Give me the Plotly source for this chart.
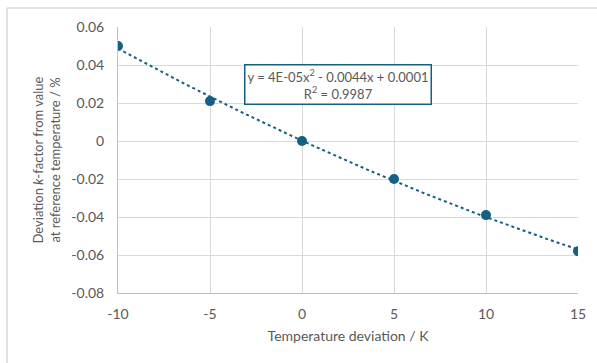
import numpy as np
import plotly.graph_objects as go

temp_dev = [-10, -5, 0, 5, 10, 15]
k_dev = [0.050, 0.021, 0.000, -0.020, -0.039, -0.058]
x_ticks = [-10, -5, 0, 5, 10, 15]
x_tick_labels = ["-10", "-5", "0", "5", "10", "15"]
y_ticks = [0.06, 0.04, 0.02, 0, -0.02, -0.04, -0.06, -0.08]
y_tick_labels = ["0.06", "0.04", "0.02", "0", "-0.02", "-0.04", "-0.06", "-0.08"]
eq_text = "y = 4E-05x<sup>2</sup> - 0.0044x + 0.0001<br>R<sup>2</sup> = 0.9987"

W, H = 597, 363
ML, MR, MT, MB = 118, 19, 27, 70

color = "#156082"
txt = "#595959"
grid = "#D9D9D9"
font = "Lato"

coef = np.polyfit(temp_dev, k_dev, 2)
xs = np.linspace(min(temp_dev), max(temp_dev), 200)
ys = np.polyval(coef, xs)

fig = go.Figure()
fig.add_trace(go.Scatter(x=xs, y=ys, mode="lines",
                         line=dict(color=color, width=2, dash="dot"),
                         hoverinfo="skip", showlegend=False))
fig.add_trace(go.Scatter(x=temp_dev, y=k_dev, mode="markers",
                         marker=dict(color=color, size=10),
                         showlegend=False))

fig.update_layout(
    width=W, height=H,
    margin=dict(l=ML, r=MR, t=MT, b=MB),
    paper_bgcolor="white", plot_bgcolor="white",
    font=dict(family=font, color=txt, size=13),
    xaxis=dict(range=[-10, 15], tickvals=x_ticks, ticktext=x_tick_labels,
               showgrid=True, gridcolor=grid,
               gridwidth=1, zeroline=False, showline=True, linecolor="#BFBFBF",
               ticks="", ticklabelstandoff=8, tickfont=dict(size=14, color=txt),
               title=dict(text="Temperature deviation / K", font=dict(size=14, color=txt), standoff=10),
               mirror=False),
    yaxis=dict(range=[-0.08, 0.06], tickvals=y_ticks, ticktext=y_tick_labels,
               showgrid=True, gridcolor=grid, gridwidth=1, zeroline=False,
               showline=True, linecolor="#BFBFBF", ticks="", ticklabelstandoff=10,
               tickfont=dict(size=14, color=txt),
               title=dict(text="Deviation <i>k</i>-factor from value<br>at reference temperature / %",
                          font=dict(size=13, color=txt), standoff=7)),
)

fig.add_annotation(x=1.96, y=0.0297, xref="x", yref="y", text=eq_text, showarrow=False,
                   font=dict(size=13, color=txt, family=font), align="center",
                   bordercolor=color, borderwidth=1.5, borderpad=2, bgcolor="white")

# outer chart border (top and left visible)
fig.add_shape(type="line", xref="paper", yref="paper",
              x0=(7 - ML) / (W - ML - MR), x1=1.2,
              y0=1 + (MT - 8) / (H - MT - MB), y1=1 + (MT - 8) / (H - MT - MB),
              line=dict(color=grid, width=1.5))
fig.add_shape(type="line", xref="paper", yref="paper",
              x0=(7 - ML) / (W - ML - MR), x1=(7 - ML) / (W - ML - MR),
              y0=-0.5, y1=1 + (MT - 8) / (H - MT - MB),
              line=dict(color=grid, width=1.5))

fig.write_html("out.html")
